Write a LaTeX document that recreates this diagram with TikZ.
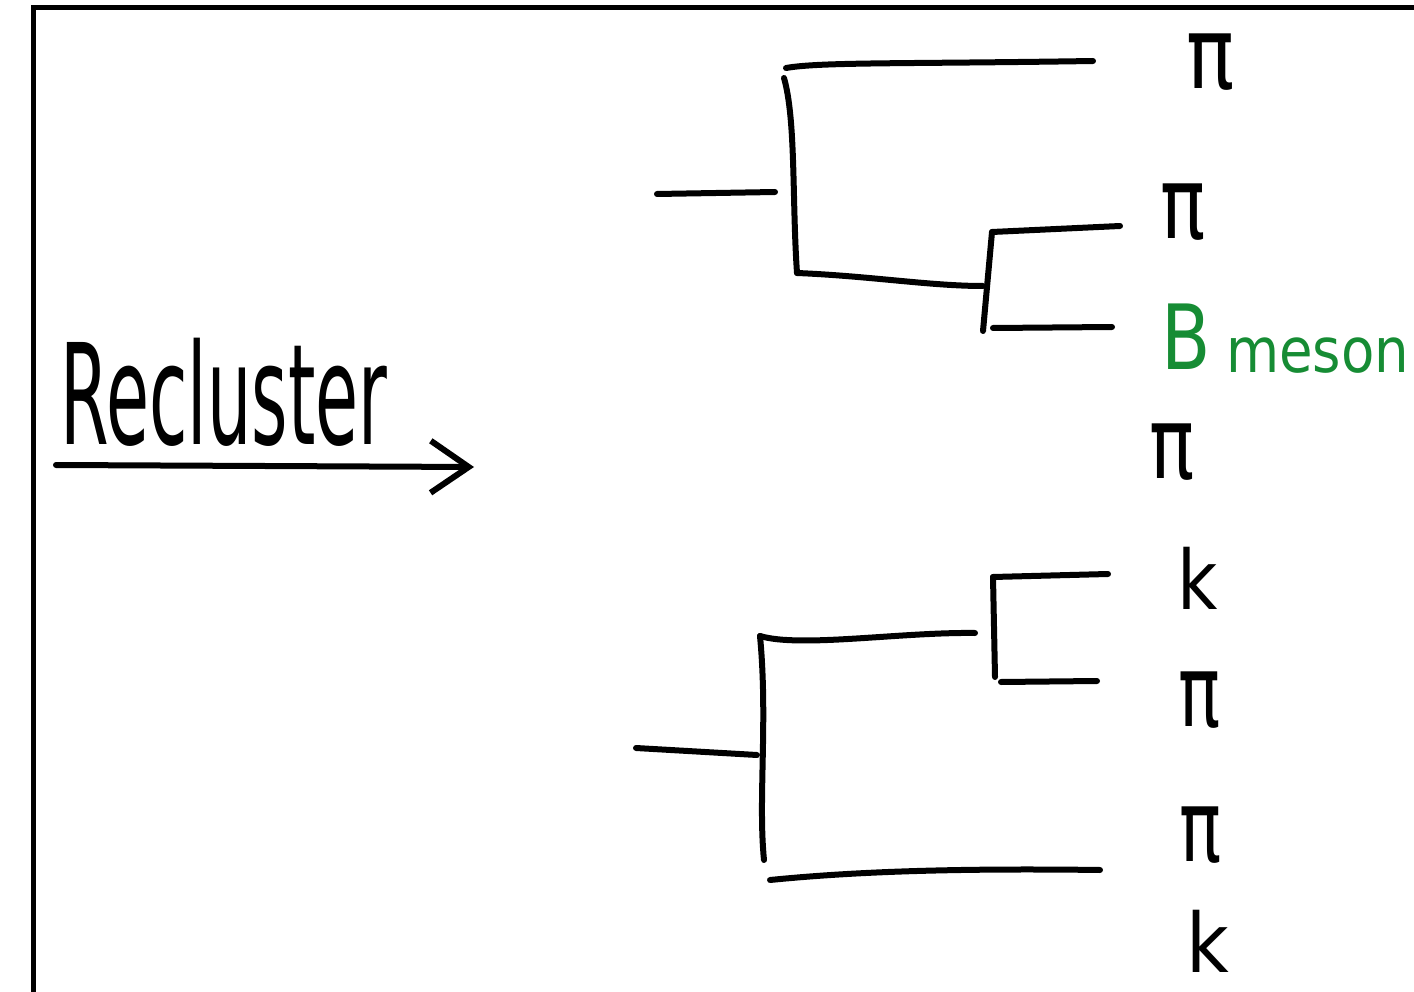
\documentclass[tikz,border=0pt]{standalone}
\usepackage{fontspec}
\setmainfont{DejaVu Sans}
\usetikzlibrary{arrows.meta}
\definecolor{mesongreen}{RGB}{22,140,52}
\tikzset{
  stroke/.style={line width=6pt, line cap=round, line join=round},
  frameline/.style={line width=5.5pt},
  lbl/.style={inner sep=0pt, anchor=center},
  pilbl/.style={lbl, font=\fontsize{100}{100}\selectfont},
  klbl/.style={lbl, font=\fontsize{82}{82}\selectfont},
}
\newcommand{\narrow}[2]{\scalebox{#1}[1]{#2}}
\begin{document}
\begin{tikzpicture}[x=1pt,y=-1pt]
\useasboundingbox (0,0) rectangle (1414,992);
% frame
\draw[frameline] (33.5,992) -- (33.5,7.5) -- (1414,7.5);

% title and arrow
\node[lbl, font=\fontsize{140}{140}\selectfont] (title) at (224,392) {\narrow{0.5}{Recluster}};
\coordinate (arrA) at (56,465);
\coordinate (arrB) at (474,467);
\draw[stroke, -{Straight Barb[length=38pt,width=52pt]}] (arrA) -- (arrB);

% leaf labels
\node[pilbl] (p1) at (1211,62) {\narrow{0.8}{π}};
\node[pilbl] (p2) at (1183,212) {\narrow{0.75}{π}};
\node[lbl, text=mesongreen, font=\fontsize{90}{90}\selectfont] (bB) at (1186,337) {\narrow{0.8}{B}};
\node[lbl, text=mesongreen, font=\fontsize{62}{62}\selectfont, anchor=west] (bm) at (1226,356) {\narrow{0.88}{meson}};
\node[pilbl] (p3) at (1172,452) {\narrow{0.75}{π}};
\node[klbl] (k1) at (1198,578) {\narrow{0.85}{k}};
\node[pilbl] (p4) at (1200,700) {\narrow{0.7}{π}};
\node[pilbl] (p5) at (1201,835) {\narrow{0.7}{π}};
\node[klbl] (k2) at (1208,941) {\narrow{0.9}{k}};

% upper tree
\coordinate (uRoot) at (657,194);
\coordinate (uJoin) at (775,192);
\coordinate (uTop) at (784,78);
\coordinate (uBot) at (797,273);
\coordinate (uTopL) at (786,68);
\coordinate (uTopR) at (1093,61);
\coordinate (uSub) at (983,286);
\coordinate (uSubT) at (992,232);
\coordinate (uSubB) at (983,331);
\coordinate (uSubTR) at (1120,226);
\coordinate (uSubBL) at (993,328);
\coordinate (uSubBR) at (1112,327);

\draw[stroke] (uRoot) -- (uJoin);
\draw[stroke] (uTop) .. controls (796,120) and (792,200) .. (uBot);
\draw[stroke] (uTopL) .. controls (820,62) and (900,64) .. (uTopR);
\draw[stroke] (uBot) .. controls (870,276) and (930,286) .. (uSub);
\draw[stroke] (uSubT) -- (uSubB);
\draw[stroke] (uSubT) -- (uSubTR);
\draw[stroke] (uSubBL) -- (uSubBR);

% lower tree
\coordinate (lRoot) at (636,748);
\coordinate (lJoin) at (757,755);
\coordinate (lTop) at (760,636);
\coordinate (lBot) at (764,860);
\coordinate (lTopR) at (975,633);
\coordinate (lSubT) at (993,577);
\coordinate (lSubB) at (995,677);
\coordinate (lSubTR) at (1108,574);
\coordinate (lSubBL) at (1001,682);
\coordinate (lSubBR) at (1097,681);
\coordinate (lBotL) at (770,880);
\coordinate (lBotR) at (1100,870);

\draw[stroke] (lRoot) -- (lJoin);
\draw[stroke] (lTop) .. controls (768,720) and (758,800) .. (lBot);
\draw[stroke] (lTop) .. controls (800,648) and (900,632) .. (lTopR);
\draw[stroke] (lSubT) -- (lSubB);
\draw[stroke] (lSubT) -- (lSubTR);
\draw[stroke] (lSubBL) -- (lSubBR);
\draw[stroke] (lBotL) .. controls (850,872) and (950,868) .. (lBotR);
\end{tikzpicture}
\end{document}
